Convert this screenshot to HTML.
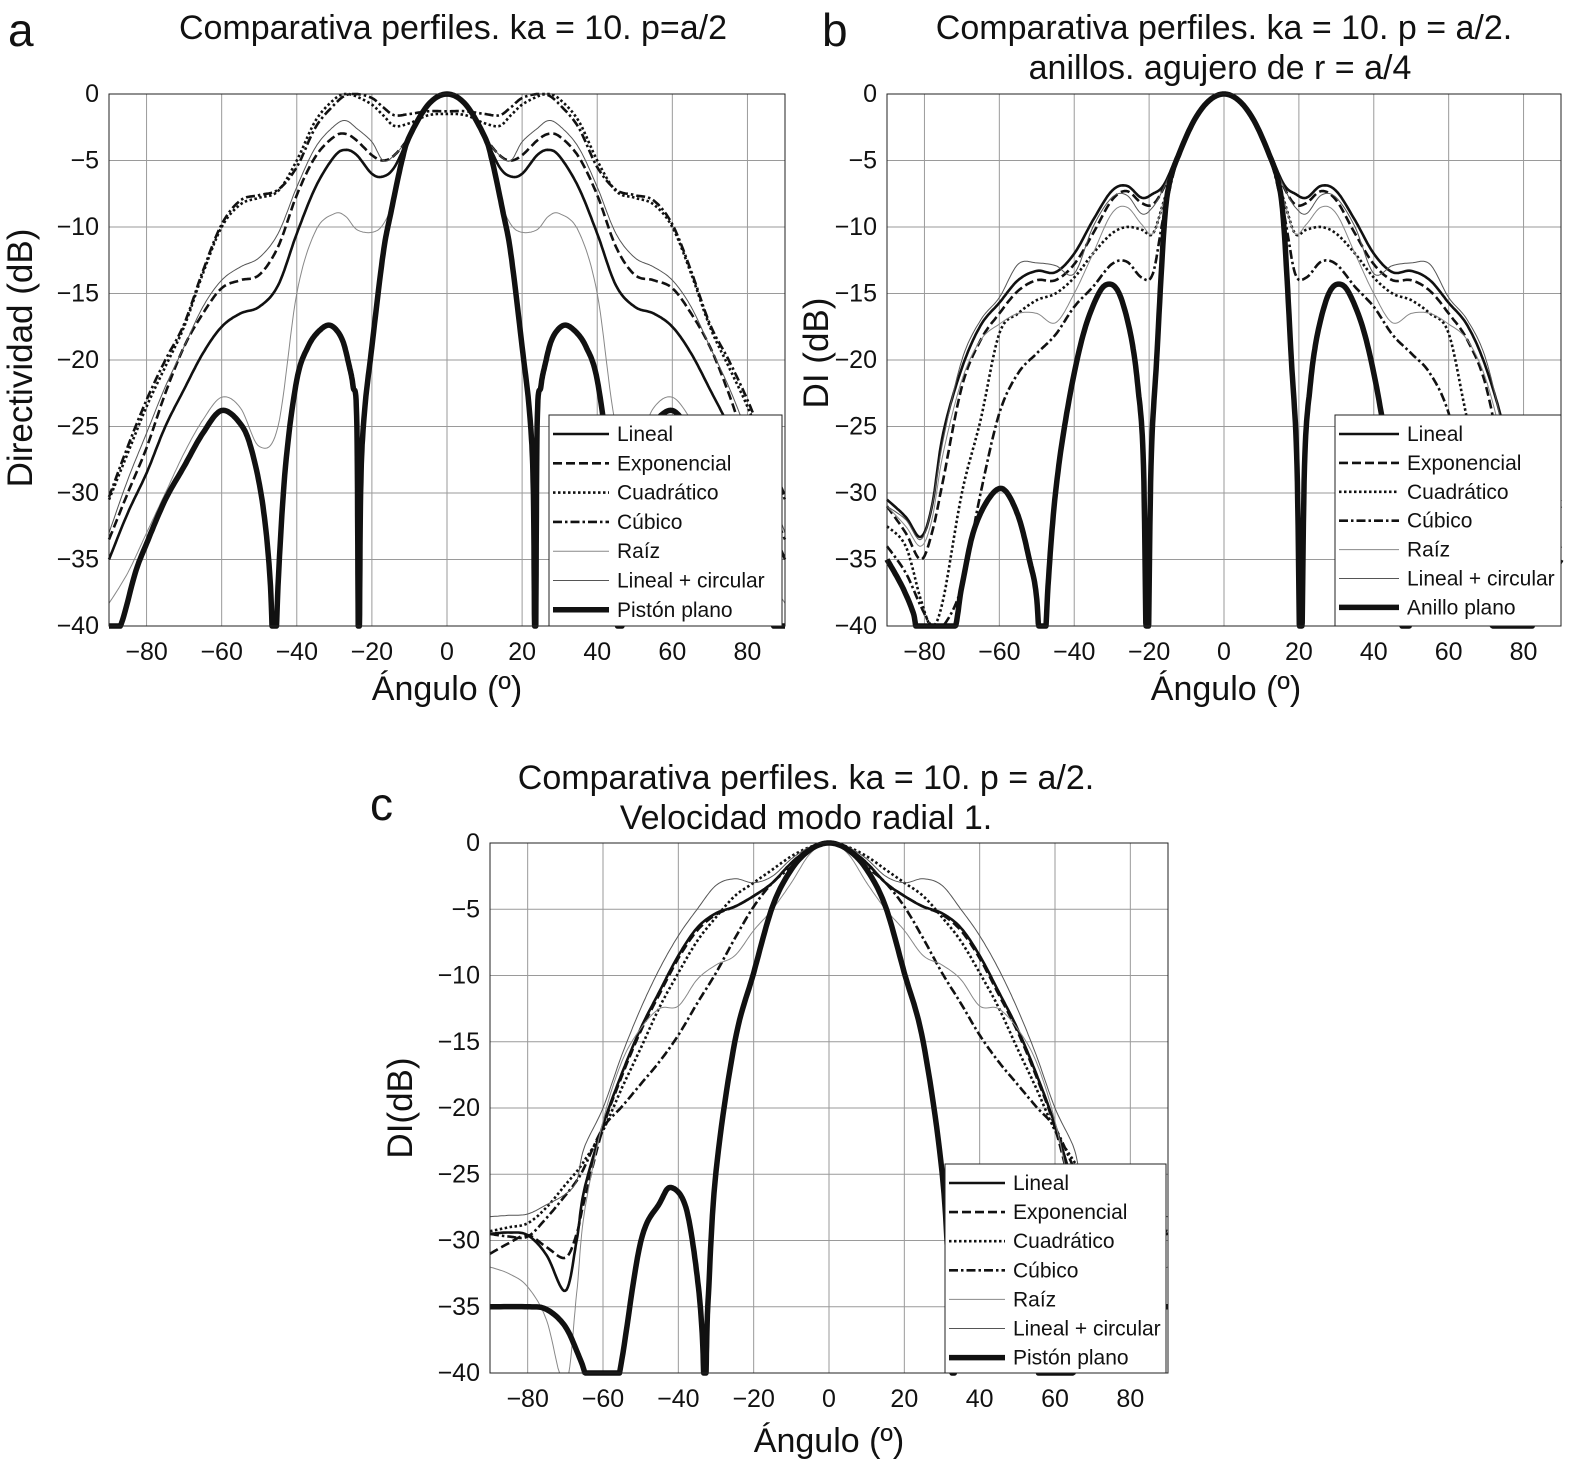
<!DOCTYPE html>
<html><head><meta charset="utf-8"><style>
body{margin:0;background:#fff;}
svg text{font-family:"Liberation Sans",sans-serif;fill:#111;}
</style></head><body>
<svg id="chart" width="1584" height="1474" viewBox="0 0 1584 1474" xmlns="http://www.w3.org/2000/svg"></svg>
<script>
// ---------- Panel a data ----------
const aAngles = [-90,-85,-80,-75,-70,-65,-60,-55,-50,-45,-40,-35,-30,-27,-24,-20,-17,-14,-10,-5,0,5,10,14,17,20,24,27,30,35,40,45,50,55,60,65,70,75,80,85,90];
const aLineal = [-35,-31.5,-28.5,-25,-22.2,-19.5,-17.5,-16.5,-16,-14.4,-10.5,-7,-4.7,-4.2,-4.6,-6,-6.2,-5.5,-3.2,-0.8,0,-0.8,-3.2,-5.5,-6.2,-6,-4.6,-4.2,-4.7,-7,-10.5,-14.4,-16,-16.5,-17.5,-19.5,-22.2,-25,-28.5,-31.5,-35];
const aExpo = [-33.5,-30,-26.6,-22.5,-19,-16.5,-14.6,-14,-13.6,-11.5,-7.6,-4.7,-3.2,-3,-3.5,-4.6,-5,-4.6,-3.2,-0.8,0,-0.8,-3.2,-4.6,-5,-4.6,-3.5,-3,-3.2,-4.7,-7.6,-11.5,-13.6,-14,-14.6,-16.5,-19,-22.5,-26.6,-30,-33.5];
const aQuad = [-30.5,-27,-23.5,-20.5,-17.5,-13.5,-10,-8.3,-7.8,-7.3,-5,-2,-0.4,0,-0.2,-0.8,-1.6,-2.4,-2.2,-1.6,-1.5,-1.6,-2.2,-2.4,-1.6,-0.8,-0.2,0,-0.4,-2,-5,-7.3,-7.8,-8.3,-10,-13.5,-17.5,-20.5,-23.5,-27,-30.5];
const aCubic = [-30.3,-26.5,-23,-20,-17.3,-13.3,-9.8,-8,-7.6,-7.2,-5.5,-2.5,-0.8,-0.1,0,-0.3,-1,-1.6,-1.5,-1.3,-1.3,-1.3,-1.5,-1.6,-1,-0.3,0,-0.1,-0.8,-2.5,-5.5,-7.2,-7.6,-8,-9.8,-13.3,-17.3,-20,-23,-26.5,-30.3];
const aRoot = [-38.3,-36,-33,-30,-27,-24.5,-22.8,-23.6,-26.5,-25,-15,-10.3,-9,-9.2,-10.2,-10.4,-9.8,-7.8,-3.2,-0.8,0,-0.8,-3.2,-7.8,-9.8,-10.4,-10.2,-9.2,-9,-10.3,-15,-25,-26.5,-23.6,-22.8,-24.5,-27,-30,-33,-36,-38.3];
const aLinCirc = [-33,-29,-25.5,-22,-19,-16,-14,-13,-12.3,-10.5,-7,-4,-2.4,-2,-2.6,-3.6,-5,-4.6,-3.2,-0.8,0,-0.8,-3.2,-4.6,-5,-3.6,-2.6,-2,-2.4,-4,-7,-10.5,-12.3,-13,-14,-16,-19,-22,-25.5,-29,-33];
const aPistAngles = [-90,-87,-83,-80,-75,-70,-65,-60,-55,-52,-49,-47,-46,-45,-43,-40,-37,-34,-31,-28,-26,-25,-24,-23.5,-23,-22,-20,-17,-15,-12,-10,-5,0,5,10,12,15,17,20,22,23,23.5,24,25,26,28,31,34,37,40,43,45,46,47,49,52,55,60,65,70,75,80,83,87,90];
const aPiston = [-40,-40,-36,-33.8,-30.5,-28,-25.5,-23.8,-24.8,-26.8,-31,-37,-45,-37,-28,-21.5,-19,-17.8,-17.4,-18.4,-20.5,-22,-25,-45,-30,-24,-19,-12,-9,-5,-3.2,-0.8,0,-0.8,-3.2,-5,-9,-12,-19,-24,-30,-45,-25,-22,-20.5,-18.4,-17.4,-17.8,-19,-21.5,-28,-37,-45,-37,-31,-26.8,-24.8,-23.8,-25.5,-28,-30.5,-33.8,-36,-40,-40];

// ---------- Panel b data ----------
const bAngles = [-90,-85,-81,-78,-75,-70,-65,-60,-55,-50,-45,-40,-35,-30,-26,-22,-19,-16,-12,-8,-4,0,4,8,12,16,19,22,26,30,35,40,45,50,55,60,65,70,75,78,81,85,90];
const bLineal = [-30.5,-31.8,-33.3,-31,-25.5,-20.6,-17.4,-15.7,-14,-13.3,-13.4,-12,-9.5,-7.3,-6.9,-7.8,-7.5,-6.8,-4.3,-2,-0.5,0,-0.5,-2,-4.3,-6.8,-7.5,-7.8,-6.9,-7.3,-9.5,-12,-13.4,-13.3,-14,-15.7,-17.4,-20.6,-25.5,-31,-33.3,-31.8,-30.5];
const bExpo = [-31,-33,-35,-33,-29,-22,-18.5,-16.5,-14.8,-14,-14,-12.8,-10.5,-8,-7.3,-8.2,-8.3,-7,-4.3,-2,-0.5,0,-0.5,-2,-4.3,-7,-8.3,-8.2,-7.3,-8,-10.5,-12.8,-14,-14,-14.8,-16.5,-18.5,-22,-29,-33,-35,-33,-31];
const bQuad = [-32.5,-34,-38,-40,-38,-30,-24.5,-18,-16.5,-15.5,-15,-13.8,-12,-10.5,-10,-10.2,-10.5,-8,-4.5,-2,-0.5,0,-0.5,-2,-4.5,-8,-10.5,-10.2,-10,-10.5,-12,-13.8,-15,-15.5,-16.5,-18,-24.5,-30,-38,-40,-38,-34,-32.5];
const bCubic = [-34,-36,-38.5,-40,-40,-37,-30,-24,-21,-19.5,-18.1,-16,-14.5,-12.8,-12.6,-13.8,-13.5,-9,-4.5,-2,-0.5,0,-0.5,-2,-4.5,-9,-13.5,-13.8,-12.6,-12.8,-14.5,-16,-18.1,-19.5,-21,-24,-30,-37,-40,-40,-38.5,-36,-34];
const bRoot = [-31,-32.5,-34,-32,-27,-21.5,-18.5,-17.3,-16.5,-16.5,-17.2,-15,-12,-9,-8.5,-9.8,-10.5,-8,-4.4,-2,-0.5,0,-0.5,-2,-4.4,-8,-10.5,-9.8,-8.5,-9,-12,-15,-17.2,-16.5,-16.5,-17.3,-18.5,-21.5,-27,-32,-34,-32.5,-31];
const bLinCirc = [-31,-32,-33.5,-31,-26,-20,-17,-15.3,-12.8,-12.7,-12.9,-13.5,-10,-7.8,-7.6,-9,-8.5,-7,-4.3,-2,-0.5,0,-0.5,-2,-4.3,-7,-8.5,-9,-7.6,-7.8,-10,-13.5,-12.9,-12.7,-12.8,-15.3,-17,-20,-26,-31,-33.5,-32,-31];
const bPistAngles = [-90,-86,-83,-81,-73,-70,-67,-63,-59,-55,-52,-50,-48.5,-47,-45,-42,-38,-34,-31,-28,-25,-23,-21.5,-20.5,-19.5,-18,-16,-14.5,-12,-8,-4,0,4,8,12,14.5,16,18,19.5,20.5,21.5,23,25,28,31,34,38,42,45,47,48.5,50,52,55,59,63,67,70,73,81,83,86,90];
const bPiston = [-35,-37,-39,-41,-41,-37,-33,-30.5,-29.7,-31.7,-35,-38,-45,-37,-30,-24,-18.5,-15.3,-14.3,-15,-18,-22,-28,-45,-28,-20,-10,-6.6,-4.5,-2,-0.5,0,-0.5,-2,-4.5,-6.6,-10,-20,-28,-45,-28,-22,-18,-15,-14.3,-15.3,-18.5,-24,-30,-37,-45,-38,-35,-31.7,-29.7,-30.5,-33,-37,-41,-41,-39,-37,-35];

// ---------- Panel c data ----------
const cAngles = [-90,-85,-80,-75,-70,-67,-65,-60,-55,-50,-45,-40,-35,-30,-25,-20,-15,-10,-5,0,5,10,15,20,25,30,35,40,45,50,55,60,65,67,70,75,80,85,90];
const cLineal = [-29.5,-29.4,-29.6,-31.1,-33.8,-30,-26.2,-21.3,-17.4,-14,-11.2,-8.5,-6.4,-5.3,-4.8,-4,-3,-1.5,-0.4,0,-0.4,-1.5,-3,-4,-4.8,-5.3,-6.4,-8.5,-11.2,-14,-17.4,-21.3,-26.2,-30,-33.8,-31.1,-29.6,-29.4,-29.5];
const cExpo = [-31,-30.2,-29.6,-30.5,-31.3,-29.5,-27,-21.5,-17.6,-14.2,-11.4,-8.7,-6.6,-5.4,-4.8,-4,-3,-1.5,-0.4,0,-0.4,-1.5,-3,-4,-4.8,-5.4,-6.6,-8.7,-11.4,-14.2,-17.6,-21.5,-27,-29.5,-31.3,-30.5,-29.6,-30.2,-31];
const cQuad = [-29.3,-29,-28.7,-27.5,-25.8,-24.8,-24,-21.7,-18.5,-15.5,-12.4,-9.8,-7.4,-5.6,-4,-3,-2,-1,-0.3,0,-0.3,-1,-2,-3,-4,-5.6,-7.4,-9.8,-12.4,-15.5,-18.5,-21.7,-24,-24.8,-25.8,-27.5,-28.7,-29,-29.3];
const cCubic = [-29.5,-29.7,-29.7,-28.3,-26.6,-25.5,-24.5,-21.5,-19.9,-18.2,-16.5,-14.5,-12.1,-9.8,-7.2,-4.8,-3,-1.8,-0.5,0,-0.5,-1.8,-3,-4.8,-7.2,-9.8,-12.1,-14.5,-16.5,-18.2,-19.9,-21.5,-24.5,-25.5,-26.6,-28.3,-29.7,-29.7,-29.5];
const cRoot = [-32,-32.5,-33.5,-36,-41,-34,-28,-21,-16.5,-14,-12.5,-12.3,-10.3,-9.2,-8.5,-6.6,-5,-3,-0.8,0,-0.8,-3,-5,-6.6,-8.5,-9.2,-10.3,-12.3,-12.5,-14,-16.5,-21,-28,-34,-41,-36,-33.5,-32.5,-32];
const cLinCirc = [-28.2,-28.1,-28,-27.3,-26.5,-25.5,-23,-20,-16,-12.5,-9.5,-7,-5,-3.2,-2.7,-3,-2.5,-1.2,-0.3,0,-0.3,-1.2,-2.5,-3,-2.7,-3.2,-5,-7,-9.5,-12.5,-16,-20,-23,-25.5,-26.5,-27.3,-28,-28.1,-28.2];
const cPistAngles = [-90,-80,-75,-70,-66,-63,-57,-55,-50,-45,-42,-38,-35,-33.5,-33,-32.5,-32,-30,-25,-20,-15,-10,-5,0,5,10,15,20,25,30,32,32.5,33,33.5,35,38,42,45,50,55,57,63,66,70,75,80,90];
const cPiston = [-35,-35,-35.2,-36.5,-39,-41,-41,-39,-30.1,-27.2,-26,-27.5,-32.7,-38,-45,-38,-34,-24.8,-15,-9.8,-4.8,-2,-0.5,0,-0.5,-2,-4.8,-9.8,-15,-24.8,-34,-38,-45,-38,-32.7,-27.5,-26,-27.2,-30.1,-39,-41,-41,-39,-36.5,-35.2,-35,-35];

const xTicks = [-80,-60,-40,-20,0,20,40,60,80];
const yTicks = [0,-5,-10,-15,-20,-25,-30,-35,-40];

const NS = 'http://www.w3.org/2000/svg';
const svg = document.getElementById('chart');
function mk(tag, attrs, parent, txt){
  const e = document.createElementNS(NS, tag);
  for (const k in attrs) e.setAttribute(k, attrs[k]);
  if (txt !== undefined) e.textContent = txt;
  (parent || svg).appendChild(e);
  return e;
}
const styles = {
  lineal: {stroke:'#111', w:2.6, dash:''},
  expo: {stroke:'#111', w:2.6, dash:'9,4'},
  quad: {stroke:'#111', w:2.6, dash:'2.5,2.5'},
  cubic: {stroke:'#111', w:2.6, dash:'9,3,2.5,3'},
  root: {stroke:'#888', w:1, dash:''},
  lincirc: {stroke:'#555', w:1, dash:''},
  piston: {stroke:'#111', w:5.5, dash:''}
};

function buildPanel(p){
  const g = mk('g', {});
  
  
  const X = a => p.x0 + (a + 90) / 180 * (p.x1 - p.x0);
  const Y = v => p.y0 + (-v) / 40 * (p.y1 - p.y0);
  xTicks.forEach(t => {
    const l = mk('line', {x1:X(t), x2:X(t), y1:p.y0, y2:p.y1, stroke:'#9a9a9a', 'stroke-width':1}, g);
    
    
    const tx = mk('text', {x:X(t), y:p.y1 + 34, 'text-anchor':'middle', 'font-size':25}, g, t < 0 ? '\u2212' + (-t) : String(t));
    
    
  });
  yTicks.forEach(t => {
    const l = mk('line', {x1:p.x0, x2:p.x1, y1:Y(t), y2:Y(t), stroke:'#9a9a9a', 'stroke-width':1}, g);
    
    
    const tx = mk('text', {x:p.x0 - 10, y:Y(t) + 8, 'text-anchor':'end', 'font-size':25}, g, t < 0 ? '\u2212' + (-t) : String(t));
    
    
  });
  p.series.forEach(s => {
    const st = styles[s.style];
    const A = s.angles, V = s.values;
    const pts = [];
    for (let i = 0; i < A.length - 1; i++) {
      const i0 = Math.max(0, i - 1), i3 = Math.min(A.length - 1, i + 2);
      for (let k = 0; k < 12; k++) {
        const t = k / 12, t2 = t * t, t3 = t2 * t;
        const cr = (p0, p1, p2, p3) => 0.5 * ((2 * p1) + (-p0 + p2) * t + (2 * p0 - 5 * p1 + 4 * p2 - p3) * t2 + (-p0 + 3 * p1 - 3 * p2 + p3) * t3);
        const a = cr(A[i0], A[i], A[i + 1], A[i3]);
        let v = cr(V[i0], V[i], V[i + 1], V[i3]);
        v = Math.max(-40, Math.min(0, v));
        pts.push(X(a).toFixed(1) + ',' + Y(v).toFixed(1));
      }
    }
    pts.push(X(A[A.length - 1]).toFixed(1) + ',' + Y(Math.max(-40, V[V.length - 1])).toFixed(1));
    const pl = mk('polyline', {points:pts.join(' '), fill:'none', stroke:st.stroke, 'stroke-width':st.w, 'stroke-dasharray':st.dash, 'stroke-linejoin':'round'}, g);
    
    
  });
  const fr = mk('rect', {x:p.x0, y:p.y0, width:p.x1 - p.x0, height:p.y1 - p.y0, fill:'none', stroke:'#222', 'stroke-width':1}, g);
  
  
  const L = p.legend;
  const lg = mk('g', {}, g);
  
  
  mk('rect', {x:L.x, y:L.y, width:L.w, height:L.h, fill:'#fff', stroke:'#222', 'stroke-width':1}, lg);
  p.series.forEach((s, i) => {
    const st = styles[s.style];
    const yy = L.y + 19 + i * L.dy;
    const ln = mk('line', {x1:L.x + 4, x2:L.x + L.sw, y1:yy, y2:yy, stroke:st.stroke, 'stroke-width':st.w, 'stroke-dasharray':st.dash}, lg);
    
    
    const tx = mk('text', {x:L.x + L.sw + 8, y:yy + 7, 'font-size':21}, lg, s.label);
    
    
  });
}

function seriesSet(ang, pa, lin, exp, quad, cub, root, lc, pist, pl){
  return [
    {style:'lineal', label:'Lineal', angles:ang, values:lin},
    {style:'expo', label:'Exponencial', angles:ang, values:exp},
    {style:'quad', label:'Cuadrático', angles:ang, values:quad},
    {style:'cubic', label:'Cúbico', angles:ang, values:cub},
    {style:'root', label:'Raíz', angles:ang, values:root},
    {style:'lincirc', label:'Lineal + circular', angles:ang, values:lc},
    {style:'piston', label:pl, angles:pa, values:pist}
  ];
}

buildPanel({name:'panel-a', x0:109, x1:785, y0:94, y1:626,
  series: seriesSet(aAngles, aPistAngles, aLineal, aExpo, aQuad, aCubic, aRoot, aLinCirc, aPiston, 'Pistón plano'),
  legend:{x:549, y:415, w:233, h:211, dy:29.3, sw:60}});
buildPanel({name:'panel-b', x0:887, x1:1561, y0:94, y1:626,
  series: seriesSet(bAngles, bPistAngles, bLineal, bExpo, bQuad, bCubic, bRoot, bLinCirc, bPiston, 'Anillo plano'),
  legend:{x:1335, y:415, w:226, h:211, dy:28.9, sw:64}});
buildPanel({name:'panel-c', x0:490, x1:1168, y0:843, y1:1373,
  series: seriesSet(cAngles, cPistAngles, cLineal, cExpo, cQuad, cCubic, cRoot, cLinCirc, cPiston, 'Pistón plano'),
  legend:{x:945, y:1164, w:221, h:209, dy:29.1, sw:60}});
</script>
<script>
(function(){
  const NS='http://www.w3.org/2000/svg', svg=document.getElementById('chart');
  const items=[
    ['panel-a-letter','a',8,46,46,'start'],
    ['panel-b-letter','b',822,46,46,'start'],
    ['panel-c-letter','c',370,820,46,'start'],
    ['panel-a-title','Comparativa perfiles. ka = 10. p=a/2',453,39,34,'middle'],
    ['panel-b-title','Comparativa perfiles. ka = 10. p = a/2.',1224,39,34,'middle'],
    ['panel-b-title-2','anillos. agujero de r = a/4',1220,79,34,'middle'],
    ['panel-c-title','Comparativa perfiles. ka = 10. p = a/2.',806,789,34,'middle'],
    ['panel-c-title-2','Velocidad modo radial 1.',806,829,34,'middle'],
    ['panel-a-x-title','Ángulo (º)',447,700,34,'middle'],
    ['panel-b-x-title','Ángulo (º)',1226,700,34,'middle'],
    ['panel-c-x-title','Ángulo (º)',829,1452,34,'middle']
  ];
  items.forEach(it=>{
    const t=document.createElementNS(NS,'text');
    t.setAttribute('x',it[2]);t.setAttribute('y',it[3]);
    t.setAttribute('font-size',it[4]);t.setAttribute('text-anchor',it[5]);
    t.textContent=it[1];
    
    
    svg.appendChild(t);
  });
  const ys=[['panel-a-y-title','Directividad (dB)',32,358],['panel-b-y-title','DI (dB)',828,353],['panel-c-y-title','DI(dB)',412,1108]];
  ys.forEach(it=>{
    const t=document.createElementNS(NS,'text');
    t.setAttribute('x',it[2]);t.setAttribute('y',it[3]);
    t.setAttribute('font-size',35);t.setAttribute('text-anchor','middle');
    t.setAttribute('transform','rotate(-90 '+it[2]+' '+it[3]+')');
    t.textContent=it[1];
    
    
    svg.appendChild(t);
  });
})();
</script>
</body></html>
